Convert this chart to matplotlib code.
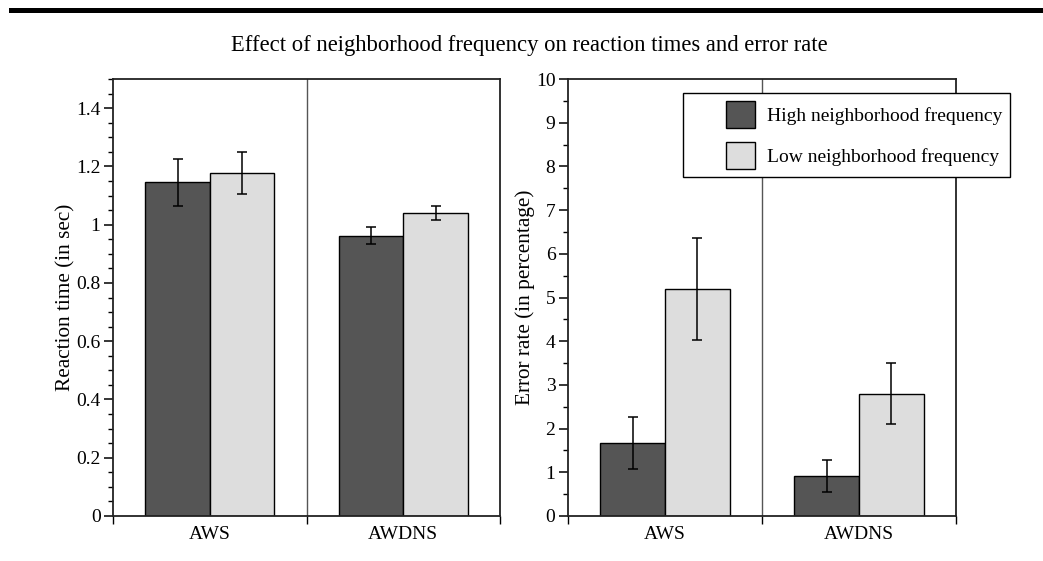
import matplotlib
matplotlib.use('Agg')
import matplotlib.pyplot as plt
import matplotlib.patches as mpatches
from matplotlib.legend_handler import HandlerPatch
from matplotlib.ticker import MultipleLocator, FuncFormatter, FixedLocator
import numpy as np

plt.rcParams['font.family'] = ['Liberation Serif', 'DejaVu Serif']

groups = ['AWS', 'AWDNS']
series = ['High neighborhood frequency', 'Low neighborhood frequency']
colors = ['#555555', '#dddddd']

rt_high = [1.145, 0.962]
rt_high_err = [0.080, 0.030]
rt_low = [1.178, 1.040]
rt_low_err = [0.073, 0.025]

er_high = [1.67, 0.92]
er_high_err = [0.60, 0.37]
er_low = [5.20, 2.80]
er_low_err = [1.17, 0.70]

W, H = 1043, 561
fig = plt.figure(figsize=(W / 100, H / 100), dpi=100)

# thick rule at top of page
fig.add_artist(mpatches.Rectangle((9 / W, 1 - 13 / H), 1, 5 / H,
                                  transform=fig.transFigure, color='black', lw=0))

fig.text(529 / W, 1 - 45 / H,
         'Effect of neighborhood frequency on reaction times and error rate',
         ha='center', va='center', fontsize=16.3)

ax1 = fig.add_axes([113 / W, 45 / H, 387 / W, 437 / H])
ax2 = fig.add_axes([568 / W, 45 / H, 388 / W, 437 / H])

fmt = FuncFormatter(lambda v, p: '%g' % round(v, 3))
bw = 1 / 3
centers = np.arange(len(groups)) + 0.5


def draw(ax, hi, hi_err, lo, lo_err, top, major, minor, ylabel):
    ax.bar(centers - bw / 2, hi, bw, color=colors[0], edgecolor='black', lw=1.0, zorder=2)
    ax.bar(centers + bw / 2, lo, bw, color=colors[1], edgecolor='black', lw=1.0, zorder=2)
    ax.errorbar(centers - bw / 2, hi, yerr=hi_err, fmt='none', ecolor='black',
                elinewidth=1.1, capsize=3.6, capthick=1.1, zorder=3)
    ax.errorbar(centers + bw / 2, lo, yerr=lo_err, fmt='none', ecolor='black',
                elinewidth=1.1, capsize=3.6, capthick=1.1, zorder=3)
    ax.axvline(1, color='#555555', lw=1.0, zorder=1)
    ax.set_xlim(0, 2)
    ax.set_ylim(0, top)
    ax.yaxis.set_major_locator(MultipleLocator(major))
    ax.yaxis.set_minor_locator(MultipleLocator(minor))
    ax.yaxis.set_major_formatter(fmt)
    ax.xaxis.set_major_locator(FixedLocator([0, 1, 2]))
    ax.xaxis.set_major_formatter(FuncFormatter(lambda v, p: ''))
    ax.xaxis.set_minor_locator(FixedLocator(list(centers)))
    ax.xaxis.set_minor_formatter(FuncFormatter(lambda v, p: groups[int(v)]))
    ax.tick_params(axis='y', which='major', direction='out', length=6.5,
                   width=1.1, labelsize=14, pad=2.5)
    ax.tick_params(axis='y', which='minor', direction='out', length=3.5, width=1.0)
    ax.tick_params(axis='x', which='major', direction='out', length=6, width=1.0)
    ax.tick_params(axis='x', which='minor', length=0, labelsize=14, pad=7)
    for s in ax.spines.values():
        s.set_color('#222222')
        s.set_linewidth(1.3)
    ax.set_ylabel(ylabel, fontsize=15.3, labelpad=0.5)


draw(ax1, rt_high, rt_high_err, rt_low, rt_low_err, 1.5, 0.2, 0.05,
     'Reaction time (in sec)')
draw(ax2, er_high, er_high_err, er_low, er_low_err, 10, 1, 0.5,
     'Error rate (in percentage)')


def offset_patch(legend, orig_handle, xdescent, ydescent, width, height, fontsize):
    w = 1.5 * fontsize
    return mpatches.Rectangle((width - w - xdescent, -ydescent), w, height)


handles = [mpatches.Patch(facecolor=c, edgecolor='black', lw=1.0) for c in colors]
leg = ax2.legend(handles, series, loc='upper right',
                 bbox_to_anchor=(1010 / W, 1 - 93 / H), bbox_transform=fig.transFigure,
                 borderaxespad=0, fontsize=14, handlelength=3.3, handleheight=1.75,
                 handletextpad=0.6, labelspacing=0.75, borderpad=0.4,
                 fancybox=False, framealpha=1, edgecolor='black',
                 handler_map={mpatches.Patch: HandlerPatch(patch_func=offset_patch)})
leg.get_frame().set_linewidth(1.0)

fig.savefig('out.png', dpi=100)
